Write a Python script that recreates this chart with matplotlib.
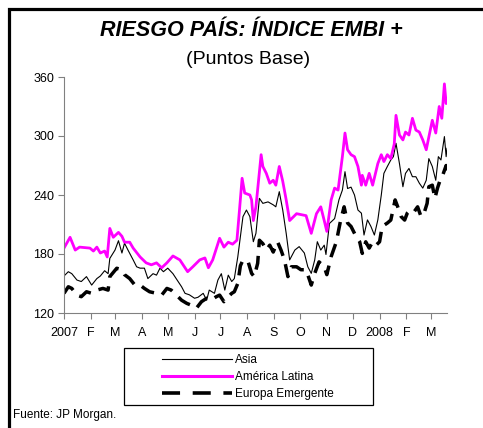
import matplotlib
matplotlib.use("Agg")
import matplotlib.pyplot as plt
from matplotlib.lines import Line2D
from matplotlib.patches import Rectangle
import pandas as pd

plt.rcParams['font.family'] = ['Liberation Sans', 'DejaVu Sans']

# days counted from 2007-01-01
dias_asia = [0, 5, 9, 15, 20, 26, 32, 38, 42, 47, 51, 53, 59, 63, 67, 70, 74, 80, 84, 88,
             93, 97, 103, 107, 111, 115, 120, 126, 132, 136, 140, 145, 151, 155, 161, 165,
             168, 174, 178, 182, 186, 190, 194, 197, 201, 204, 207, 211, 215, 219, 222, 226,
             230, 236, 242, 245, 249, 253, 257, 261, 267, 272, 278, 282, 286, 290, 293, 297,
             301, 303, 307, 313, 318, 322, 325, 328, 332, 336, 340, 344, 347, 351, 355, 359,
             363, 367, 370, 374, 378, 381, 384, 388, 392, 395, 399, 403, 407, 411, 415, 419,
             422, 426, 430, 433, 436, 440, 442, 443]
asia = [157.6, 162, 160, 153.5, 152, 157, 148.4, 155, 157.6, 163, 160, 175.5, 184, 193.5, 181,
        191, 184, 174, 167, 165.6, 165.6, 155, 160, 158.5, 165.6, 162, 165.6, 160, 152, 146.7,
        140, 138.5, 135, 136, 140, 133, 143.3, 140, 153.5, 160, 143.3, 158.5, 152, 155, 177,
        197.5, 218, 224.7, 218, 192.5, 201, 236.6, 231.5, 233, 230, 228, 243.4, 224.7, 201,
        174, 184, 187.5, 181, 167, 160.3, 174, 192.5, 184, 189, 179.5, 211, 216, 235, 245,
        263.7, 246.6, 248, 240, 224.7, 221.5, 199.3, 214.7, 208, 199.3, 214.7, 240, 262, 269,
        275.6, 279, 292.6, 272, 248.4, 262, 267, 258.6, 258.6, 252, 247, 255, 277, 269, 255,
        279, 275.6, 299.4, 279, 287.5]

dias_latam = [0, 7, 13, 18, 30, 34, 38, 42, 47, 50, 53, 57, 63, 67, 70, 76, 80, 88, 95, 101,
              107, 113, 119, 126, 134, 140, 143, 149, 157, 163, 167, 172, 180, 185, 190, 195,
              200, 203, 206, 209, 215, 217, 219, 222, 228, 230, 234, 238, 242, 245, 249, 253,
              257, 261, 269, 280, 286, 292, 297, 301, 304, 309, 313, 317, 322, 325, 328, 332,
              336, 340, 344, 345, 349, 353, 357, 363, 367, 370, 374, 378, 382, 384, 388, 392,
              395, 399, 403, 407, 411, 415, 419, 422, 426, 430, 434, 437, 440, 442, 443]
america_latina = [186, 197, 184, 187, 186, 183, 187, 181, 183, 177, 206, 197, 202, 198, 192, 192,
                  186, 177, 171, 169, 171, 166, 171, 178, 174, 166, 162, 167, 174, 176, 166, 174,
                  196, 187, 192, 190, 194, 225, 257, 242, 240, 235, 214, 228, 281, 269, 262, 252,
                  255, 250, 269, 254, 235, 214, 221, 219, 201, 221, 228, 214, 203, 235, 247, 245,
                  279, 303, 286, 281, 279, 269, 250, 260, 250, 262, 250, 272, 281, 274, 281, 277,
                  292, 321, 301, 296, 304, 301, 318, 306, 304, 296, 286, 299, 316, 303, 330, 318,
                  353, 333, 338]

dias_europa = [0, 5, 9, 15, 20, 26, 32, 38, 45, 51, 53, 61, 67, 70, 76, 82, 88, 93, 99, 107,
               113, 119, 124, 130, 136, 142, 147, 153, 159, 165, 170, 176, 180, 185, 190, 194,
               197, 201, 204, 207, 213, 217, 220, 224, 226, 230, 234, 238, 242, 247, 251, 255,
               259, 263, 269, 274, 280, 286, 290, 295, 301, 304, 309, 315, 320, 324, 328, 332,
               338, 342, 345, 349, 353, 357, 361, 365, 368, 374, 378, 383, 386, 390, 394, 397,
               401, 405, 409, 413, 417, 420, 422, 426, 429, 432, 435, 438, 442, 443]
europa = [140, 146.7, 145, 138.2, 136.6, 141.6, 140, 143.3, 145, 143.3, 157, 165.5, 164, 159, 155,
          148.4, 148.4, 145, 141.6, 140, 138.2, 145, 143.3, 138.2, 133, 129.8, 128, 124.7, 131.5,
          135, 133, 136.5, 138.2, 131.5, 136.5, 140, 141.6, 150, 168, 174, 172, 160.3, 157, 170.5,
          194, 190.5, 184, 189, 182, 192.4, 184, 174, 157, 167, 167, 164, 164, 148.4, 160.3, 172,
          167, 159, 177.3, 192.4, 214.5, 228, 211.5, 208, 197.5, 192.4, 180.6, 192.4, 186, 192.4,
          189, 192.4, 208, 211.5, 214.5, 235, 228, 218, 214.5, 221.5, 225, 223, 228, 218, 223,
          231.5, 248.4, 250, 236.6, 247, 255, 260, 270, 265]

meses = ['2007', 'F', 'M', 'A', 'M', 'J', 'J', 'A', 'S', 'O', 'N', 'D', '2008', 'F', 'M']
y_ticks = [120, 180, 240, 300, 360]

inicio = pd.Timestamp('2007-01-01')
def fechas(d):
    return inicio + pd.to_timedelta(d, unit='D')

W, H = 483, 428
fig = plt.figure(figsize=(W / 100, H / 100), dpi=100)
ax = fig.add_axes([64 / W, 1 - 313 / H, 383 / W, 236 / H])

ax.plot(fechas(dias_asia), asia, color='black', lw=0.8, label='Asia')
ax.plot(fechas(dias_latam), america_latina, color='#FF00FF', lw=2.0, label='América Latina')
ax.plot(fechas(dias_europa), europa, color='black', lw=2.5, ls=(0, (4, 2.5)),
        label='Europa Emergente')

ax.set_ylim(120, 360)
ax.set_yticks(y_ticks)
ax.set_xlim(inicio, fechas(443))
ticks = pd.date_range('2007-01-01', '2008-03-01', freq='MS')
ax.set_xticks(ticks)
ax.set_xticklabels(meses)

for s in ['top', 'right']:
    ax.spines[s].set_visible(False)
for s in ['left', 'bottom']:
    ax.spines[s].set_color('#808080')
ax.tick_params(axis='both', colors='#808080', labelcolor='black', labelsize=9, length=4)
ax.tick_params(axis='y', pad=3)
ax.tick_params(axis='x', pad=6)

# titles
fig.text(251 / W, 1 - 30 / H, 'RIESGO PAÍS: ÍNDICE EMBI +', ha='center', va='center',
         fontsize=15.5, fontweight='bold', fontstyle='italic')
fig.text(248 / W, 1 - 59 / H, '(Puntos Base)', ha='center', va='center', fontsize=14)

# legend box
fig.add_artist(Rectangle((124 / W, 1 - 405 / H), 249 / W, 57 / H, transform=fig.transFigure,
                         fill=False, edgecolor='black', lw=0.9))
h = [Line2D([], [], color='black', lw=0.8),
     Line2D([], [], color='#FF00FF', lw=2.2),
     Line2D([], [], color='black', lw=2.6, ls=(0, (5, 3.5)))]
fig.legend(h, ['Asia', 'América Latina', 'Europa Emergente'], loc='center',
           bbox_to_anchor=(248 / W, 1 - 377 / H), frameon=False, fontsize=8.5,
           handlelength=5.9, handletextpad=0.3, labelspacing=0.4, borderpad=0)

fig.text(13 / W, 1 - 415 / H, 'Fuente: JP Morgan.', ha='left', va='center', fontsize=8.5)

# outer frame (left and top only)
fig.add_artist(Line2D([9 / W, 9 / W, 1], [0, 1 - 9 / H, 1 - 9 / H], transform=fig.transFigure,
                      color='black', lw=2.3, solid_joinstyle='miter'))

fig.savefig('out.png', dpi=100)
